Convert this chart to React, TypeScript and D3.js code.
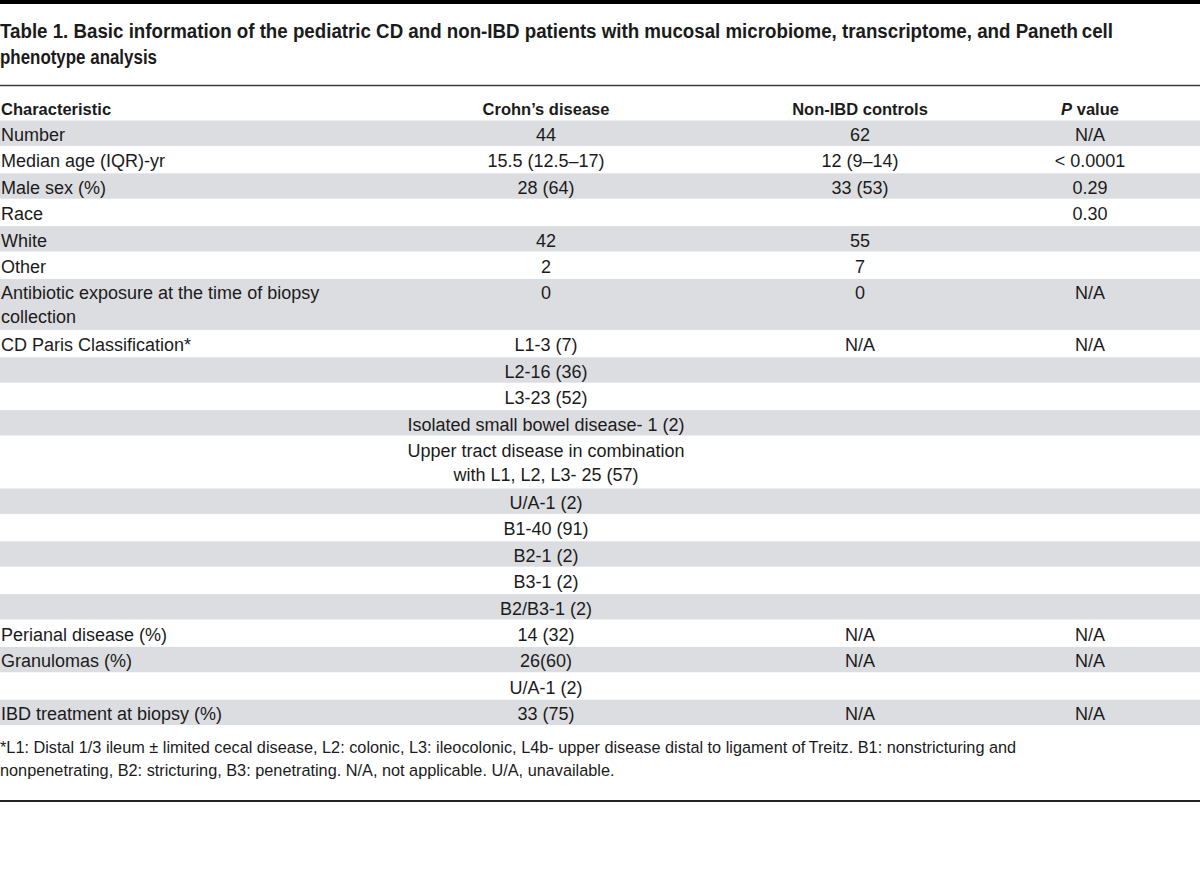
import React from "react";
import * as d3 from "d3";

const titleLines = [
  "Table 1. Basic information of the pediatric CD and non-IBD patients with mucosal microbiome, transcriptome, and Paneth\u2009cell",
  "phenotype analysis",
];
const titleWidths = [1113, 157];
const headers = ["Characteristic", "Crohn\u2019s disease", "Non-IBD controls", "value"];
const characteristics = [
  "Number",
  "Median age (IQR)-yr",
  "Male sex (%)",
  "Race",
  "White",
  "Other",
  "Antibiotic exposure at the time of biopsy\ncollection",
  "CD Paris Classification*",
  "", "", "", "", "", "", "", "", "",
  "Perianal disease (%)",
  "Granulomas (%)",
  "",
  "IBD treatment at biopsy (%)",
];
const crohnsDisease = [
  "44", "15.5 (12.5\u201317)", "28 (64)", "", "42", "2", "0",
  "L1-3 (7)", "L2-16 (36)", "L3-23 (52)",
  "Isolated small bowel disease- 1 (2)",
  "Upper tract disease in combination\nwith L1, L2, L3- 25 (57)",
  "U/A-1 (2)", "B1-40 (91)", "B2-1 (2)", "B3-1 (2)", "B2/B3-1 (2)",
  "14 (32)", "26(60)", "U/A-1 (2)", "33 (75)",
];
const nonIbdControls = [
  "62", "12 (9\u201314)", "33 (53)", "", "55", "7", "0",
  "N/A", "", "", "", "", "", "", "", "", "",
  "N/A", "N/A", "", "N/A",
];
const pValues = [
  "N/A", "< 0.0001", "0.29", "0.30", "", "", "N/A",
  "N/A", "", "", "", "", "", "", "", "", "",
  "N/A", "N/A", "", "N/A",
];
const footnoteLines = [
  "*L1: Distal 1/3 ileum \u00b1 limited cecal disease, L2: colonic, L3: ileocolonic, L4b- upper disease distal to ligament of\u2009Treitz. B1: nonstricturing and",
  "nonpenetrating, B2: stricturing, B3: penetrating. N/A, not applicable. U/A, unavailable.",
];

const W = 1200;
const H = 894;
const FONT = "'Liberation Sans', Arial, sans-serif";
const TEXT = "#1b1b1b";
const GRAY = "#dcdde0";

export default function App() {
  const rows = characteristics.map((c, i) => ({
    cells: [c, crohnsDisease[i], nonIbdControls[i], pValues[i]],
  }));
  const lineCounts = rows.map((r) => d3.max(r.cells, (c) => c.split("\n").length) as number);
  const unit = 26.4;
  const heights = lineCounts.map((n) => (n === 1 ? unit : 52));
  const tableTop = 120;
  const tops = [tableTop, ...Array.from(d3.cumsum(heights)).map((v) => tableTop + v)];

  const colX = d3.scaleOrdinal<number, number>().domain([0, 1, 2, 3]).range([1, 546, 860, 1090]);
  const anchors = ["start", "middle", "middle", "middle"];

  return (
    <svg width={W} height={H} style={{ position: "absolute", left: 0, top: 0, background: "#fff" }}>
      <rect x={0} y={0} width={W} height={H} fill="#fff" />
      <rect x={0} y={0} width={W} height={4} fill="#000" />
      {titleLines.map((t, i) => (
        <text
          key={i}
          x={0}
          y={38 + i * 26}
          fontFamily={FONT}
          fontWeight="bold"
          fontSize={19.5}
          fill={TEXT}
          textLength={titleWidths[i]}
          lengthAdjust="spacingAndGlyphs"
        >
          {t}
        </text>
      ))}
      <line x1={0} x2={W} y1={85.5} y2={85.5} stroke="#3a3a3a" strokeWidth={1.5} />
      {headers.map((h, j) => (
        <text key={j} x={colX(j)} y={115} textAnchor={anchors[j]} fontFamily={FONT} fontWeight="bold" fontSize={16.5} fill={TEXT}>
          {j === 3 ? (
            <>
              <tspan fontStyle="italic">P</tspan> {h}
            </>
          ) : (
            h
          )}
        </text>
      ))}
      {rows.map((r, i) => (
        <g key={i} transform={`translate(0,${tops[i]})`}>
          {i % 2 === 0 && <rect x={0} y={0.5} width={W} height={heights[i] - 1} fill={GRAY} />}
          {r.cells.map((c, j) =>
            c.split("\n").map((line, k) => (
              <text
                key={`${j}-${k}`}
                x={colX(j)}
                y={21 + k * 24}
                textAnchor={anchors[j]}
                fontFamily={FONT}
                fontSize={18}
                fill={TEXT}
              >
                {line}
              </text>
            ))
          )}
        </g>
      ))}
      {footnoteLines.map((t, i) => (
        <text key={i} x={0} y={753 + i * 23} fontFamily={FONT} fontSize={16.3} fill={TEXT}>
          {t}
        </text>
      ))}
      <line x1={0} x2={W} y1={801} y2={801} stroke="#222" strokeWidth={2} />
    </svg>
  );
}
